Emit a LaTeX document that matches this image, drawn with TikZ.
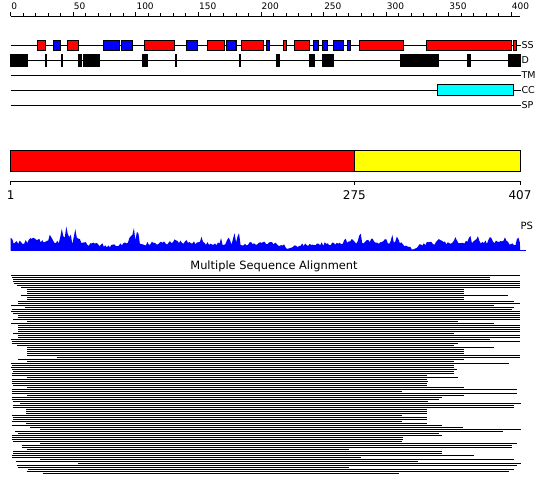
\documentclass[tikz,border=0pt]{standalone}
\usepackage{fontspec}
\setmainfont{DejaVu Sans}
\definecolor{ssred}{RGB}{255,0,0}
\definecolor{ssblue}{RGB}{0,0,255}
\definecolor{ccyan}{RGB}{0,255,255}
\definecolor{dyellow}{RGB}{255,255,0}
\begin{document}
\begin{tikzpicture}[x=1pt,y=-1pt,
  helix/.style={fill=ssred, draw=black, line width=0.7pt},
  strand/.style={fill=ssblue, draw=black, line width=0.7pt},
  disbox/.style={fill=black, draw=black, line width=0.3pt},
  track/.style={draw=black, line width=0.9pt},
  tracklbl/.style={anchor=west, inner sep=0pt, font=\fontsize{9.5}{10}\selectfont},
  rulerlbl/.style={anchor=base west, inner sep=0pt, font=\fontsize{9}{10}\selectfont},
  axlbl/.style={anchor=base, inner sep=0pt, font=\fontsize{12}{13}\selectfont},
  msa/.style={draw=black, line width=1.25pt},
  declare function={
    bp(\bx,\bc,\ba,\bw)=\ba*max(0,1-abs(\bx-\bc)/\bw);
    ph(\bx)=max(1.2, 4.8+4*rnd
      +bp(\bx,40,3.5,35)+bp(\bx,180,1.5,50)+bp(\bx,370,2.5,40)+bp(\bx,475,2.5,50)
      +bp(\bx,11,7,3)+bp(\bx,33,5,6)+bp(\bx,50,5,4)+bp(\bx,62,13,3)
      +bp(\bx,66.5,19,2.5)+bp(\bx,70,12,2)+bp(\bx,75,17,2.5)+bp(\bx,79,6,2)
      +bp(\bx,93,4,2)+bp(\bx,131,9,3)+bp(\bx,134,17,2)+bp(\bx,137.5,17,2)
      +bp(\bx,176,4,3)+bp(\bx,186,4,3)+bp(\bx,202,6,2)+bp(\bx,221,4,2)
      +bp(\bx,229,7,3)+bp(\bx,234,12,2)+bp(\bx,238.5,17,1.5)+bp(\bx,262,3,4)
      +bp(\bx,318,3,3)+bp(\bx,345,6,2)+bp(\bx,352,4,2)+bp(\bx,360,10,2)
      +bp(\bx,372,6,2)+bp(\bx,386,6,2)+bp(\bx,392,9,2)+bp(\bx,397,8,2)
      +bp(\bx,440,3,4)+bp(\bx,455,4,3)+bp(\bx,470,6,2)+bp(\bx,478,7,2)
      +bp(\bx,490,4,3)+bp(\bx,505,4,2)+bp(\bx,518,6,2)
      -bp(\bx,289,4,8)-bp(\bx,412,5,12)-bp(\bx,110,2,20)-bp(\bx,300,1.5,30));
  }
]
\useasboundingbox (0,0) rectangle (550,495);

% ---- ruler ----
\draw[track] (10.7,16.3) -- (520,16.3);
\foreach \v in {0,10,...,400} {
  \pgfmathsetmacro\xx{10.7+1.2514*\v}
  \draw[track] (\xx,16.3) -- (\xx,13.5);
}
\foreach \v in {0,50,...,400} {
  \pgfmathsetmacro\xx{10.7+1.2514*\v}
  \draw[track] (\xx,16.3) -- (\xx,12.3);
  \node[rulerlbl] (r\v) at (\xx+0.5,10) {\v};
}

% ---- feature tracks ----
\foreach \y/\t in {45/SS,60/D,75/TM,90/CC,105/SP} {
  \draw[track] (10.7,\y) -- (520.5,\y);
  \node[tracklbl] (l\t) at (521.3,\y) {\t};
}
\foreach \a/\b in {37.3/45.7,67.3/78.3,144.3/174.3,207.3/224.3,235.3/236.7,241.3/263.7,283.3/286.7,294.3/309.3,359.3/403.7,426.7/511.3,513.3/516.7}
  \draw[helix] (\a,40) rectangle (\b,50);
\foreach \a/\b in {53.3/60.7,103.3/119.3,121/132.7,186/197.7,226/235.3,266.3/269.7,313.3/318.7,322.3/327.3,333.3/343.7,347.3/350.7}
  \draw[strand] (\a,40) rectangle (\b,50);
\foreach \a/\b in {10/26.7,45.2/46.5,61.2/62.5,78/80.7,83/88.7,90/99,142.3/146.7,175/176.3,239/240.3,276/279.3,309.3/313.7,322/323.7,325/332.7,400/437.7,467/470,508/520.5}
  \draw[disbox] (\a,54.5) rectangle (\b,66);
\draw[fill=ccyan, draw=black, line width=0.7pt] (437.3,84.5) rectangle (513.3,95.7);

% ---- domain bar ----
\draw[fill=ssred, draw=black, line width=0.9pt] (10.7,150.5) rectangle (354.4,171);
\draw[fill=dyellow, draw=black, line width=0.9pt] (354.4,150.5) rectangle (520,171);
\draw[track] (10.7,181) -- (520,181);
\foreach \xx/\t in {10.7/1,354.4/275,520/407} {
  \draw[track] (\xx,181) -- (\xx,185.5);
  \node[axlbl] (d\t) at (\xx,200) {\t};
}

% ---- PS profile ----
\pgfmathsetseed{2718}
\fill[ssblue] (10.7,250.7) -- plot[domain=10.7:520, samples=340] (\x,{250.7-ph(\x)}) -- (520,250.7) -- cycle;
\draw[ssblue, line width=0.8pt] (10.7,250.7) -- (526,250.7);
\node[anchor=west, inner sep=0pt, font=\fontsize{10}{11}\selectfont] (ps) at (520.5,226) {PS};

% ---- MSA ----
\node[inner sep=0pt, font=\fontsize{11.4}{12}\selectfont] (title) at (274,266) {Multiple Sequence Alignment};
\foreach \s/\e [count=\k from 0] in {
11/520,12.3/489.7,13.3/489.7,13.3/520,14.3/520,16.7/520,21/520,27.3/464.3,27.3/464.3,27.3/464.3,
21/508.3,27.3/464.3,27.3/464.3,18.3/514.3,18.3/520,11/494.3,25/514.3,12.3/511.7,11/520,13.3/520,
18.3/520,18.3/520,13.3/520,27.3/458.3,11/494.3,18.3/520,18.3/520,18.3/520,18.3/520,13.3/454.3,
18.3/520,18.3/520,11/489.7,12.3/520,11.7/458.3,16.7/454.3,27.3/494.3,27.3/464.3,27.3/464.3,27.3/464.3,
27.3/520,56.7/520,18.3/464.3,27.3/454.3,11/509.3,12.3/454.3,11/454.3,12.3/456.7,13.3/454.3,11.7/454.3,
11.7/426.7,26.7/458.3,11.7/426.7,11.7/428.3,11.7/426.7,13.3/426.7,26.7/464.3,11.7/516.7,11.7/402.3,11.7/516.7,
26.7/464.3,11.7/442.3,11.7/439.3,12.7/428.3,20/520.7,12.7/514.3,12.7/514.3,26/426.7,26/426.7,26/426.7,
11.7/402.3,12.7/426.7,12.7/426.7,11.7/402.3,26/426.7,11.7/442.3,30/463.3,40/520.7,15/502.7,18.3/439.3,
11.7/441.7,11.7/403.3,11.7/403.3,12.7/402.3,40/517.3,21.7/511.7,21.7/511.7,26.7/349,13.3/441.7,13.3/441.7,
11.7/474.3,11.7/360.7,40/514.3,16/417.7,78.3/520.7,16.7/517.3,18.3/349,28.3/513.7,26.7/509.3,42.7/399.3}
  \draw[msa] (\s,{275.5+2*\k}) -- (\e,{275.5+2*\k});
\end{tikzpicture}
\end{document}
